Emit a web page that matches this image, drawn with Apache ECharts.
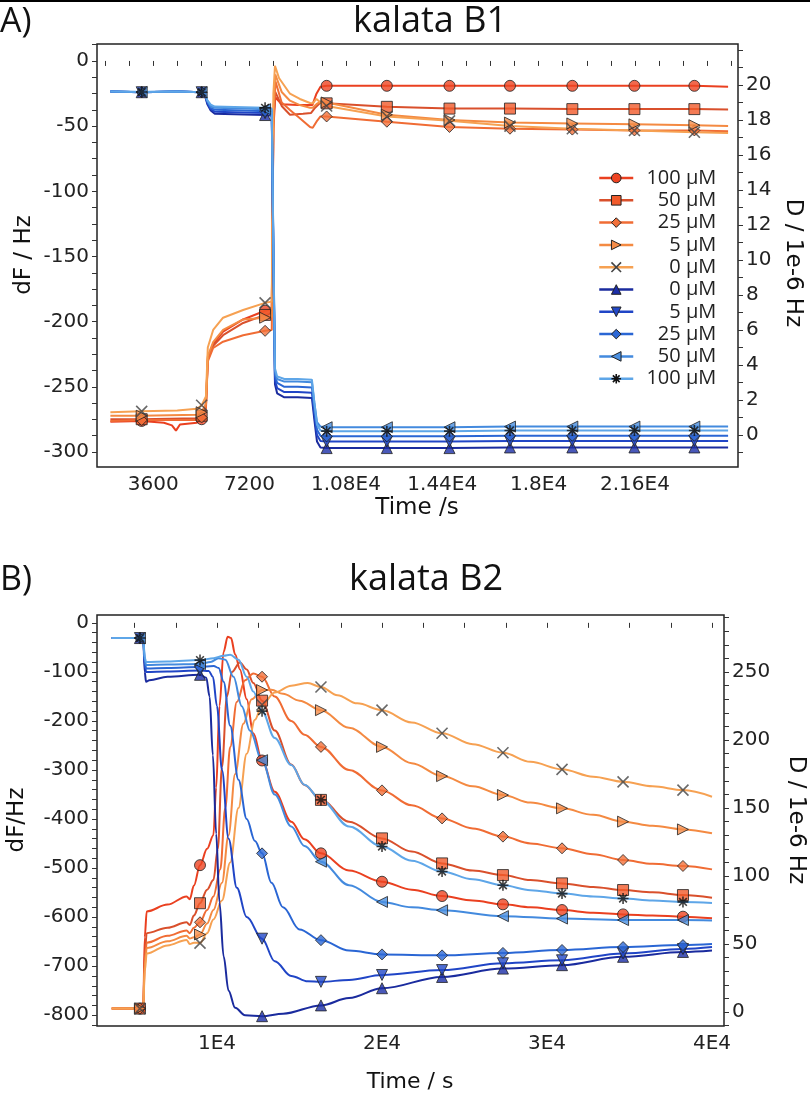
<!DOCTYPE html>
<html><head><meta charset="utf-8">
<script src="https://cdn.jsdelivr.net/npm/echarts@6/dist/echarts.min.js"></script>
<style>html,body{margin:0;padding:0;background:#fff}#c{width:810px;height:1099px}</style>
</head><body><div id="c"></div>
<script>
// ================= DATA =================
const orangeNames = ['100 µM','50 µM','25 µM','5 µM','0 µM'];
const blueNames   = ['0 µM','5 µM','25 µM','50 µM','100 µM'];

// ---- Panel A (kalata B1) ----
const markerTimesA = [3170,5410,7780,10080,12330,14670,16930,19260,21580,23820];
const xTicksA = [3600,7200,10800,14400,18000,21600];
const xTickTextA = ['3600','7200','1.08E4','1.44E4','1.8E4','2.16E4'];
const yTicksAL = [0,-50,-100,-150,-200,-250,-300];
const yTicksAR = [0,2,4,6,8,10,12,14,16,18,20];

// dissipation (right axis, 1e-6), orange
const aD100 = [[2000,0.75],[3170,0.8],[4000,0.7],[4300,0.55],[4450,0.25],[4600,0.6],[5230,0.7],[5410,0.9],[5570,1.6],[5640,4.4],[5840,5.2],[6210,5.9],[6960,6.6],[7780,7.1],[8030,7.2],[8090,17.5],[8160,19.3],[8400,18.9],[9000,18.86],[9550,18.86],[9700,19.5],[9850,19.9],[10080,19.95],[12330,19.95],[14670,19.95],[16930,19.95],[19260,19.95],[21580,19.95],[23820,19.95],[25080,19.9]];
const aD50  = [[2000,0.9],[3170,0.9],[5230,0.95],[5410,1.1],[5570,1.7],[5640,4.3],[5840,5.1],[6210,5.7],[6960,6.4],[7780,6.86],[8030,6.95],[8090,18.0],[8160,19.6],[8400,18.8],[8710,18.3],[9200,18.35],[9500,18.4],[9650,18.7],[9850,19.0],[10080,18.95],[12330,18.75],[14670,18.65],[16930,18.65],[19260,18.62],[21580,18.62],[23820,18.62],[25080,18.6]];
const aD25  = [[2000,0.8],[3170,0.85],[5230,0.85],[5410,1.0],[5570,1.5],[5640,4.2],[5840,4.97],[6210,5.33],[6960,5.7],[7780,5.95],[8030,6.0],[8090,18.0],[8170,20.2],[8400,19.0],[8710,18.57],[9080,18.1],[9460,17.6],[9560,17.55],[9700,17.9],[9850,18.2],[10080,18.2],[12330,17.9],[14670,17.6],[16930,17.5],[19260,17.45],[21580,17.4],[23820,17.4],[25080,17.35]];
const aD5   = [[2000,1.1],[3170,1.1],[5230,1.15],[5410,1.3],[5570,1.8],[5640,4.5],[5840,5.3],[6210,6.0],[6960,6.6],[7780,6.7],[8030,6.75],[8090,18.5],[8160,20.6],[8400,19.6],[8710,19.1],[9080,18.85],[9460,18.7],[9560,18.7],[9700,18.9],[9850,19.05],[10080,19.0],[12330,18.3],[14670,18.0],[16930,17.85],[19260,17.8],[21580,17.75],[23820,17.7],[25080,17.65]];
const aD0   = [[2000,1.3],[3170,1.35],[4500,1.4],[5230,1.5],[5410,1.7],[5570,2.2],[5640,5.0],[5840,6.0],[6210,6.7],[6960,7.14],[7780,7.55],[8030,7.62],[8090,19.5],[8150,21.1],[8300,20.4],[8710,19.5],[9080,19.2],[9460,18.97],[9560,18.95],[9700,19.2],[9850,19.0],[10080,18.8],[12330,18.2],[14670,17.95],[16930,17.65],[19260,17.5],[21580,17.4],[23820,17.3],[25080,17.25]];

// frequency (left axis, Hz), blue
const aF0   = [[2000,-23.5],[3170,-24],[4500,-23.5],[5410,-24],[5530,-26],[5620,-33],[5750,-38],[5900,-40.5],[7000,-41],[7780,-41.5],[8030,-42],[8090,-150],[8150,-248],[8230,-255],[8500,-258],[9000,-258],[9530,-258.5],[9620,-275],[9720,-292],[9850,-296.5],[10080,-297],[12330,-297],[14670,-297],[16930,-296.5],[19260,-296.5],[21580,-296.5],[23820,-296.5],[25080,-296.5]];
const aF5   = [[2000,-23.5],[3170,-24],[4500,-23.5],[5410,-24],[5530,-26],[5620,-32],[5750,-37],[5900,-39],[7000,-39.5],[7780,-40],[8030,-40.5],[8090,-148],[8150,-245],[8230,-251],[8500,-254],[9000,-254],[9530,-254.5],[9620,-271],[9720,-287],[9850,-291.5],[10080,-292],[12330,-292],[14670,-292],[16930,-291.5],[19260,-291.5],[21580,-291.5],[23820,-291.5],[25080,-291.5]];
const aF25  = [[2000,-23.5],[3170,-24],[4500,-23.5],[5410,-24],[5530,-25.5],[5620,-31],[5750,-36],[5900,-37.5],[7000,-38],[7780,-38.5],[8030,-39],[8090,-146],[8150,-241],[8230,-247],[8500,-250],[9000,-250],[9530,-250.5],[9620,-267],[9720,-283],[9850,-287.5],[10080,-288],[12330,-288],[14670,-288],[16930,-287.5],[19260,-287.5],[21580,-287.5],[23820,-287.5],[25080,-287.5]];
const aF50  = [[2000,-23.5],[3170,-23.8],[4500,-23.5],[5410,-24],[5530,-25],[5620,-30.5],[5750,-35],[5900,-36],[7000,-36.5],[7780,-37],[8030,-37.5],[8090,-142],[8150,-238],[8230,-244],[8500,-246],[9000,-246],[9530,-246.5],[9620,-262],[9720,-277],[9850,-280.5],[10080,-281],[12330,-281],[14670,-281],[16930,-280.5],[19260,-280.5],[21580,-280.5],[23820,-280.5],[25080,-280.5]];
const aF100 = [[2000,-23.5],[3170,-23.8],[4500,-23.5],[5410,-24],[5530,-25],[5620,-30],[5750,-33.5],[5900,-35],[7000,-35.5],[7780,-36],[8030,-36.5],[8090,-140],[8150,-236],[8230,-242],[8500,-244],[9000,-244],[9530,-244.5],[9620,-262],[9720,-279],[9850,-283.5],[10080,-284],[12330,-284],[14670,-284],[16930,-283.5],[19260,-283.5],[21580,-283.5],[23820,-283.5],[25080,-283.5]];

// ---- Panel B (kalata B2) ----
const markerTimesB = [5330,8970,12730,16300,20000,23640,27330,30910,34610,38240];
const xTicksB = [10000,20000,30000,40000];
const xTickTextB = ['1E4','2E4','3E4','4E4'];
const yTicksBL = [0,-100,-200,-300,-400,-500,-600,-700,-800];
const yTicksBR = [0,50,100,150,200,250];

const bD100 = [[3620,2.5],[5330,2.5],[5530,3],[5620,55],[5740,74],[7000,79],[8160,85],[8350,83],[8600,93],[8970,108],[9400,120],[9780,130],[9950,165],[10150,225],[10400,265],[10650,276],[10850,275],[11100,263],[11390,252],[11800,230],[12200,205],[12730,185],[13500,162],[14500,140],[15300,127],[16300,116.7],[18000,104],[20000,95.8],[21800,90],[23640,85.3],[25500,82],[27330,79.2],[29000,77],[30910,75],[32800,73],[34610,71.8],[36400,71],[38240,70.1],[40000,68.9]];
const bD50  = [[3620,2.5],[5330,2.5],[5530,3],[5620,42],[5740,58],[7000,62],[8160,66],[8350,64],[8600,71],[8970,80],[9400,90],[9780,97],[10050,120],[10300,180],[10600,232],[10900,250],[11390,257],[11800,252],[12200,242],[12730,229],[13500,207],[14500,182],[15300,167],[16300,156],[18000,140],[20000,127.7],[21800,118],[23640,109.3],[25500,104],[27330,100.7],[29000,97],[30910,94.6],[32800,92],[34610,89.7],[36400,88],[38240,86],[40000,84]];
const bD25  = [[3620,2.5],[5330,2.5],[5530,3],[5620,38],[5740,51],[7000,56],[8160,60],[8350,58],[8600,62],[8970,66],[9400,75],[9780,85],[10200,105],[10500,150],[10800,195],[11200,228],[11700,244],[12200,249],[12730,246.6],[13500,232],[14500,214],[15300,204],[16300,195],[18000,178],[20000,163],[21800,152],[23640,142.4],[25500,135],[27330,129],[29000,124],[30910,120.4],[32800,116],[34610,111.8],[36400,109],[38240,107.4],[40000,104.9]];
const bD5   = [[3620,2.5],[5330,2.5],[5530,3],[5620,34],[5740,47],[7000,52],[8160,56],[8350,54],[8600,55],[8970,57],[9400,65],[9780,75],[10300,95],[10700,130],[11100,175],[11600,212],[12100,230],[12730,236.8],[13300,237],[14000,234],[15000,229],[16300,222],[18000,209],[20000,195],[21800,183],[23640,173.5],[25500,166],[27330,159.6],[29000,154],[30910,149.8],[32800,145],[34610,140],[36400,137],[38240,134.3],[40000,131.4]];
const bD0   = [[3620,2.5],[5330,2.5],[5530,3],[5620,30],[5740,43],[7000,49],[8160,53],[8350,50],[8600,51],[8970,50.7],[9400,58],[9780,68],[10300,82],[10800,110],[11300,150],[11800,190],[12300,215],[12730,226],[13500,235],[14500,240],[15500,242],[16300,239],[17300,233],[18500,227],[20000,222],[21800,213],[23640,205],[25500,197],[27330,190.7],[29000,184],[30910,178.5],[32800,173],[34610,169.3],[36400,166],[38240,163.2],[40000,158.3]];

const bF0   = [[3620,-31],[5330,-31],[5530,-34],[5620,-100],[5700,-120],[5900,-117],[7000,-110],[8970,-106],[9350,-112],[9550,-150],[9750,-270],[9950,-430],[10150,-570],[10400,-680],[10700,-750],[11100,-785],[11700,-800],[12730,-802],[14000,-797],[16300,-780],[18000,-765],[20000,-745],[23640,-722],[27330,-705],[30910,-698],[34610,-681],[38240,-671],[40000,-668]];
const bF5   = [[3620,-31],[5330,-31],[5530,-33],[5620,-85],[5700,-100],[7000,-99],[8970,-97],[9500,-98],[9750,-110],[10000,-170],[10300,-300],[10700,-440],[11200,-540],[11800,-600],[12730,-644],[13500,-690],[14500,-720],[15500,-731],[16300,-732],[18000,-728],[20000,-718],[23640,-708],[27330,-694],[30910,-688],[34610,-674],[38240,-665],[40000,-661]];
const bF25  = [[3620,-31],[5330,-31],[5530,-33],[5620,-80],[5700,-93],[7000,-92],[8970,-90],[9800,-88],[10100,-92],[10400,-120],[10800,-210],[11300,-320],[11800,-400],[12300,-445],[12730,-470],[13300,-530],[14000,-580],[15000,-625],[16300,-647],[18000,-668],[20000,-676],[23640,-678],[27330,-673],[30910,-667],[34610,-661],[38240,-657],[40000,-655]];
const bF50  = [[3620,-31],[5330,-31],[5530,-32],[5620,-75],[5700,-86],[7000,-85],[8970,-84],[9600,-80],[10100,-72],[10500,-75],[11000,-110],[11500,-170],[12000,-220],[12730,-280],[13500,-350],[14500,-415],[15300,-455],[16300,-487],[18000,-535],[20000,-569],[21800,-580],[23640,-586],[27330,-598],[30910,-603],[34610,-606],[38240,-606],[40000,-607]];
const bF100 = [[3620,-31],[5330,-31],[5530,-32],[5620,-70],[5700,-80],[7000,-79],[8970,-76],[9800,-72],[10400,-67],[10800,-65],[11300,-75],[11800,-110],[12200,-140],[12730,-180],[13500,-235],[14500,-290],[15300,-330],[16300,-361],[18000,-415],[20000,-456],[21800,-485],[23640,-507],[25500,-523],[27330,-535],[29000,-545],[30910,-552],[32800,-558],[34610,-562],[36400,-566],[38240,-569],[40000,-571]];

// ================= STYLE =================
const SYM = {
  circle:'circle', square:'rect', diamond:'diamond', upTri:'triangle',
  rightTri:'path://M0,0L10,5L0,10Z', leftTri:'path://M10,0L0,5L10,10Z', downTri:'path://M0,0L10,0L5,10Z',
  cross:'path://M0,0L10,10M10,0L0,10', star:'path://M5,0L5,10M0,5L10,5M1.5,1.5L8.5,8.5M8.5,1.5L1.5,8.5'
};
const orangeStyle = [
  {color:'#ee4322', line:'#ea4020', symbol:SYM.circle},
  {color:'#f15a2b', line:'#d9502c', symbol:SYM.square},
  {color:'#f2703a', line:'#f06c34', symbol:SYM.diamond},
  {color:'#f58c48', line:'#f48a42', symbol:SYM.rightTri},
  {color:'none', line:'#f6a152', symbol:SYM.cross, stroke:'#444'}
];
const blueStyle = [
  {color:'#1c2ea8', line:'#1a2b9e', symbol:SYM.upTri},
  {color:'#2248c8', line:'#2045c6', symbol:SYM.downTri},
  {color:'#2c68d6', line:'#2a66d4', symbol:SYM.diamond},
  {color:'#4a8fe0', line:'#438ade', symbol:SYM.leftTri},
  {color:'none', line:'#5ea6e8', symbol:SYM.star, stroke:'#111'}
];
const ZW = '\u200b';
const FONT_AX = 'DejaVu Sans';
const FONT_T = 'Open Sans';

const lines = [], marks = [], legendData = [];
function itemSt(st){ return st.stroke ? {color:'none', borderColor:st.stroke, borderWidth:1.6} : {color:st.color, borderColor:'#222', borderWidth:1}; }
function add(name, data, st, markers, xi, yi, smooth, withLegend){
  lines.push({type:'line', name, xAxisIndex:xi, yAxisIndex:yi, data, showSymbol:false, symbol:st.symbol, symbolSize:10,
    lineStyle:{color:st.line, width:2}, itemStyle:itemSt(st), smooth:smooth?0.35:false, smoothMonotone:'x', silent:true, z:2});
  marks.push({type:'scatter', name:name+'#m', xAxisIndex:xi, yAxisIndex:yi, data:data.filter(p=>markers.includes(p[0])),
    symbol:st.symbol, symbolSize:11, itemStyle:itemSt(st), silent:true, z:4});
  if (withLegend) legendData.push({name, itemStyle:itemSt(st), lineStyle:{color:st.line, width:2.5}});
}
const aOr = [aD100,aD50,aD25,aD5,aD0], aBl = [aF0,aF5,aF25,aF50,aF100];
const bOr = [bD100,bD50,bD25,bD5,bD0], bBl = [bF0,bF5,bF25,bF50,bF100];
orangeNames.forEach((n,i)=>add(n, aOr[i], orangeStyle[i], markerTimesA, 0, 1, false, true));
blueNames.forEach((n,i)=>add(n+ZW, aBl[i], blueStyle[i], markerTimesA, 0, 0, false, true));
orangeNames.forEach((n,i)=>add('B '+n, bOr[i], orangeStyle[i], markerTimesB, 1, 3, true, false));
blueNames.forEach((n,i)=>add('B '+n+ZW, bBl[i], blueStyle[i], markerTimesB, 1, 2, true, false));

function range(a,b,s){const r=[];for(let v=a;v<=b+1e-9;v+=s)r.push(+v.toFixed(4));return r;}
const labelStyle = {fontFamily:FONT_AX, fontSize:20, color:'#222'};
function xAxis(gi,min,max,ticks,texts,minorStep){
  return {gridIndex:gi, type:'value', min, max, axisLine:{show:false}, splitLine:{show:false},
    axisTick:{show:true, inside:false, length:5, customValues:range(Math.ceil(min/minorStep)*minorStep, max, minorStep), lineStyle:{color:'#333'}},
    axisLabel:Object.assign({customValues:ticks, margin:8, formatter:v=>texts[ticks.indexOf(v)]}, labelStyle)};
}
function yAxis(gi,pos,min,max,ticks,minorStep){
  return {gridIndex:gi, type:'value', position:pos, min, max, axisLine:{show:false}, splitLine:{show:false},
    axisTick:{show:true, inside:false, length:5, customValues:range(Math.ceil(min/minorStep)*minorStep, max, minorStep), lineStyle:{color:'#333'}},
    axisLabel:Object.assign({customValues:ticks, margin:8, formatter:v=>String(v)}, labelStyle)};
}

function txt(x,y,text,size,font,rot){
  return {type:'text', x, y, rotation:rot||0, silent:true,
    style:{text, font:size+'px "'+font+'"', fill:'#111', align:'center', verticalAlign:'middle'}};
}

const option = {
  animation:false,
  backgroundColor:'#fff',
  grid:[
    {left:97, top:44, width:641, height:423, show:true, borderColor:'#222', borderWidth:1.5},
    {left:97, top:615, width:627, height:411, show:true, borderColor:'#222', borderWidth:1.5}
  ],
  xAxis:[
    xAxis(0,1500,25450,xTicksA,xTickTextA,900),
    xAxis(1,2727,40727,xTicksB,xTickTextB,2500)
  ],
  yAxis:[
    yAxis(0,'left',-311.5,13,yTicksAL,12.5),
    yAxis(0,'right',-1.83,22.34,yTicksAR,1),
    yAxis(1,'left',-822,16,yTicksBL,20),
    yAxis(1,'right',-10.3,292,yTicksBR,10)
  ],
  legend:{
    orient:'vertical', left:593, top:163, itemWidth:34, itemHeight:12, itemGap:2.3, selectedMode:false,
    data:legendData,
    formatter:n=>'{r|'+n.replace(/\u200b/g,'')+'}',
    textStyle:{fontFamily:FONT_T, fontSize:20, color:'#222', rich:{r:{width:78, align:'right', fontFamily:FONT_T, fontSize:20, lineHeight:20}}}
  },
  graphic:[
    {type:'line', shape:{x1:0,y1:1,x2:810,y2:1}, style:{stroke:'#000', lineWidth:2}, silent:true},
    {type:'text', x:0, y:22, silent:true, style:{text:'A)', font:'34px "'+FONT_T+'"', fill:'#111', align:'left', verticalAlign:'middle'}},
    txt(430,22,'kalata B1',36,FONT_T),
    {type:'text', x:0, y:580, silent:true, style:{text:'B)', font:'34px "'+FONT_T+'"', fill:'#111', align:'left', verticalAlign:'middle'}},
    txt(426,580,'kalata B2',36,FONT_T),
    txt(24,255,'dF / Hz',23,FONT_AX,Math.PI/2),
    txt(793,263,'D / 1e-6 Hz',23,FONT_AX,-Math.PI/2),
    txt(417,508,'Time /s',23,FONT_AX),
    txt(17,820,'dF/Hz',23,FONT_AX,Math.PI/2),
    txt(796,820,'D / 1e-6 Hz',23,FONT_AX,-Math.PI/2),
    txt(410,1082,'Time / s',22,FONT_AX)
  ],
  series: lines.concat(marks)
};
const chart = echarts.init(document.getElementById('c'), null, {renderer:'canvas'});
chart.setOption(option);
</script></body></html>
